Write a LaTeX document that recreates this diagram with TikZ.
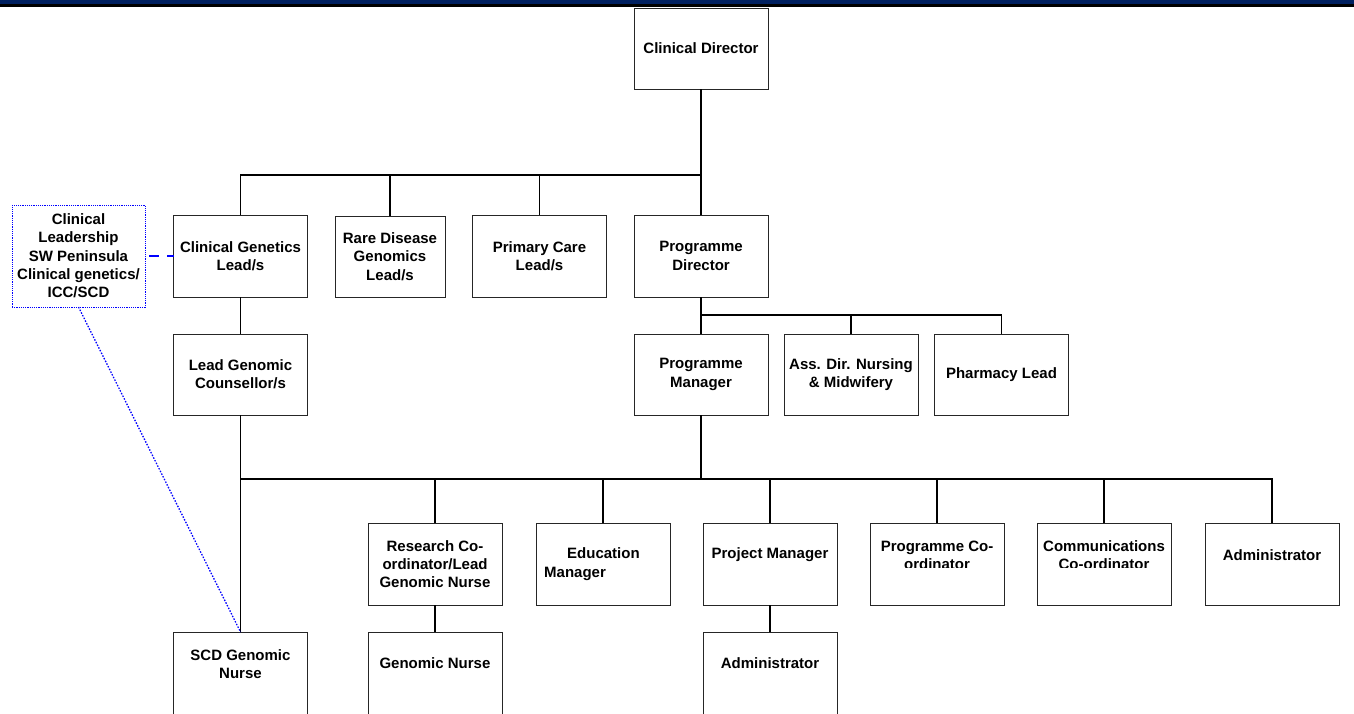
\documentclass[tikz,border=0pt]{standalone}
\usepackage{fontspec}
\setmainfont{Liberation Sans}
\definecolor{navy}{RGB}{0,32,96}
\definecolor{lnblue}{RGB}{0,0,255}
\begin{document}
\begin{tikzpicture}[x=1pt,y=-1pt,
  box/.style={draw=black!85,line width=1pt,fill=white,minimum width=134pt,minimum height=82pt,inner sep=0pt,outer sep=0pt},
  txt/.style={font=\bfseries\fontsize{15}{18.3}\selectfont,align=center,inner sep=0pt},
  conn/.style={line width=1.6pt,black},
  bluedash/.style={line width=1.5pt,lnblue,dash pattern=on 10pt off 8pt,dash phase=14pt},
  bluedot/.style={line width=1.3pt,lnblue,dash pattern=on 1.5pt off 1.5pt}]
\useasboundingbox (0,0) rectangle (1354,713);
\clip (0,0) rectangle (1354,713);
\fill[navy] (0,0) rectangle (1354,4.2);
\fill[black] (0,4.2) rectangle (1354,6.5);

% boxes
\node[box,minimum height=81pt] (cd) at (701,48.5) {};
\node[box] (cgl) at (240.5,256) {};
\node[box,minimum width=110pt,minimum height=81pt] (rd) at (390,256.5) {};
\node[box] (pc) at (539.5,256) {};
\node[box] (pd) at (701,256) {};
\node[box,draw=lnblue,line width=0.8pt,dash pattern=on 1.2pt off 1pt,minimum width=133pt,minimum height=102pt] (cl) at (78.5,256) {};
\node[box,minimum height=81pt] (lgc) at (240.5,374.5) {};
\node[box,minimum height=81pt] (pm) at (701,374.5) {};
\node[box,minimum height=81pt] (ad) at (851,374.5) {};
\node[box,minimum height=81pt] (ph) at (1001.5,374.5) {};
\node[box] (rc) at (435,564) {};
\node[box] (em) at (603,564) {};
\node[box] (prj) at (770,564) {};
\node[box] (pco) at (937,564) {};
\node[box] (cco) at (1104,564) {};
\node[box] (adm) at (1272,564) {};
\node[box] (scd) at (240.5,673) {};
\node[box] (gn) at (435,673) {};
\node[box] (adm2) at (770,673) {};

% texts
\node[txt] (tcd) at (cd) {Clinical Director};
\node[txt] (tcgl) at (cgl) {Clinical Genetics\\Lead/s};
\node[txt] (trd) at (rd) {Rare Disease\\Genomics\\Lead/s};
\node[txt] (tpc) at (pc) {Primary Care\\Lead/s};
\node[txt] (tpd) at (pd) {Programme\\Director};
\node[txt] (tcl) at (cl) {Clinical\\Leadership\\SW Peninsula\\Clinical genetics/\\ICC/SCD};
\node[txt] (tlgc) at (lgc) {Lead Genomic\\Counsellor/s};
\node[txt] (tpm) at (pm) {Programme\\Manager};
\node[txt] (tad) at (ad) {Ass. Dir. Nursing\\\& Midwifery};
\node[txt] (tph) at (ph) {Pharmacy Lead};
\node[txt] (trc) at (rc) {Research Co-\\ordinator/Lead\\Genomic Nurse};
\node[txt,align=left,anchor=west] (tem) at (544,564) {\hspace*{23pt}Education\\Manager};
\node[txt] (tprj) at ([yshift=9pt]prj.center) {Project Manager};
\begin{scope}
\clip (870,523) rectangle (1171,567);
\node[txt] (tpco) at ([yshift=9pt]pco.center) {Programme Co-\\ordinator};
\node[txt] (tcco) at ([yshift=9pt]cco.center) {Communications\\Co-ordinator};
\end{scope}
\node[txt] (tadm) at ([yshift=9pt]adm.center) {Administrator};
\node[txt] (tscd) at ([yshift=9pt]scd.center) {SCD Genomic\\Nurse};
\node[txt] (tgn) at ([yshift=9.5pt]gn.center) {Genomic Nurse};
\node[txt] (tadm2) at ([yshift=9.5pt]adm2.center) {Administrator};

% connectors
\coordinate (b1) at (701,175);
\coordinate (b2) at (701,315);
\coordinate (b3) at (701,479);
\draw[conn] (cd.south) -- (b1);
\draw[conn] (cgl.north) |- (b1);
\draw[conn] (rd.north) -- (rd.north |- b1);
\draw[conn] (pc.north) -- (pc.north |- b1);
\draw[conn] (pd.north) -- (b1);
\draw[conn] (cgl.south) -- (lgc.north);
\draw[conn] (pd.south) -- (pm.north);
\draw[conn] (ph.north) |- (b2);
\draw[conn] (ad.north) -- (ad.north |- b2);
\draw[conn] (pm.south) -- (b3);
\draw[conn] (adm.north) |- (b3);
\draw[conn] (b3) -- (lgc.south |- b3);
\draw[conn] (lgc.south) -- (scd.north);
\foreach \n in {rc,em,prj,pco,cco} \draw[conn] (\n.north) -- (\n.north |- b3);
\draw[conn] (rc.south) -- (gn.north);
\draw[conn] (prj.south) -- (adm2.north);
\draw[bluedash] (cl.east) -- (cgl.west);
\draw[bluedot] (cl.south) -- (scd.north);
\end{tikzpicture}
\end{document}
